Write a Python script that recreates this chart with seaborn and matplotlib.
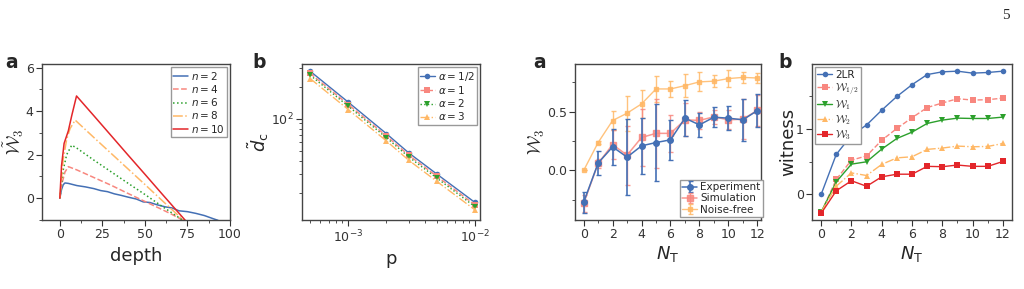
import numpy as np
import pandas as pd
import matplotlib
matplotlib.use("Agg")
import matplotlib.pyplot as plt
import seaborn as sns
from matplotlib.ticker import MultipleLocator, NullFormatter

# ---------------- data ----------------
# panel a (left): W3 tilde vs depth
depth_n2 = [0, 1, 2, 3, 5, 8, 10, 15, 20, 24, 28, 32, 36, 40, 45, 49, 53, 57, 62, 66, 70, 75, 80, 85, 90, 93]
w_n2 = [0, 0.4, 0.62, 0.7, 0.68, 0.62, 0.58, 0.52, 0.44, 0.35, 0.3, 0.2, 0.13, 0.05, -0.04, -0.17, -0.2, -0.3, -0.4, -0.45, -0.58, -0.62, -0.7, -0.8, -0.94, -1.02]
depth_n4 = [0, 1, 3, 5, 10, 20, 30, 40, 50, 60, 66, 72, 74]
w_n4 = [0, 0.6, 1.2, 1.45, 1.3, 0.95, 0.6, 0.22, -0.15, -0.52, -0.75, -1.0, -1.08]
depth_n6 = [0, 2, 4, 7, 10, 20, 30, 40, 50, 60, 72, 74]
w_n6 = [0, 1.3, 2.0, 2.44, 2.3, 1.75, 1.22, 0.69, 0.17, -0.37, -1.0, -1.1]
depth_n8 = [0, 2, 4, 6, 9, 20, 30, 40, 50, 60, 72.5, 74]
w_n8 = [0, 1.8, 2.7, 3.2, 3.59, 2.79, 2.07, 1.35, 0.63, -0.1, -1.0, -1.1]
depth_n10 = [0, 1, 2.5, 5, 7, 9.8, 20, 30, 40, 50, 60, 73.5, 75]
w_n10 = [0, 1.5, 2.52, 3.1, 3.8, 4.7, 3.79, 2.89, 1.99, 1.1, 0.2, -1.0, -1.12]

# panel b (left): d_c vs p
p_vals = [5e-4, 1e-3, 2e-3, 3e-3, 5e-3, 1e-2]
dc_a05 = [279, 142.5, 72, 47.5, 30, 16.2]
dc_a1 = [266, 135.5, 68.5, 45.2, 28.6, 15.4]
dc_a2 = [256, 130.5, 66, 43.5, 27.5, 14.8]
dc_a3 = [238, 121.5, 61.5, 40.5, 25.6, 13.8]

# panel a (right): W3 vs N_T
NT = list(range(13))
exp_val = [-0.27, 0.063, 0.2, 0.113, 0.209, 0.237, 0.26, 0.444, 0.387, 0.452, 0.444, 0.43, 0.508]
exp_err = [0.09, 0.1, 0.15, 0.32, 0.24, 0.33, 0.17, 0.15, 0.1, 0.085, 0.1, 0.18, 0.14]
sim_val = [-0.28, 0.06, 0.22, 0.13, 0.28, 0.315, 0.315, 0.43, 0.425, 0.455, 0.43, 0.435, 0.51]
sim_err = [0.07, 0.04, 0.12, 0.25, 0.24, 0.29, 0.16, 0.14, 0.07, 0.06, 0.08, 0.17, 0.13]
nf_val = [0.0, 0.237, 0.424, 0.486, 0.565, 0.692, 0.692, 0.72, 0.752, 0.758, 0.78, 0.79, 0.785]
nf_err = [0.0, 0.01, 0.08, 0.15, 0.12, 0.11, 0.07, 0.1, 0.08, 0.05, 0.07, 0.05, 0.04]

# panel b (right): witness vs N_T
w_2lr = [0.0, 0.613, 0.905, 1.063, 1.29, 1.5, 1.68, 1.835, 1.877, 1.887, 1.857, 1.867, 1.887]
w_half = [-0.276, 0.23, 0.525, 0.59, 0.83, 1.01, 1.175, 1.33, 1.40, 1.465, 1.445, 1.45, 1.475]
w_one = [-0.27, 0.193, 0.464, 0.5, 0.694, 0.857, 0.954, 1.087, 1.138, 1.168, 1.163, 1.163, 1.184]
w_two = [-0.27, 0.127, 0.33, 0.29, 0.46, 0.56, 0.577, 0.69, 0.71, 0.74, 0.73, 0.735, 0.78]
w_three = [-0.29, 0.056, 0.21, 0.125, 0.27, 0.31, 0.31, 0.43, 0.425, 0.45, 0.43, 0.43, 0.505]

# ---------------- style ----------------
sns.set_style("ticks")
plt.rcParams.update({
    "font.family": ["DejaVu Sans"],
    "axes.edgecolor": "#444444",
    "axes.linewidth": 1.0,
    "xtick.color": "#333333",
    "ytick.color": "#333333",
    "xtick.labelsize": 9,
    "ytick.labelsize": 9,
    "xtick.major.size": 4,
    "ytick.major.size": 4,
    "xtick.minor.size": 2.5,
    "ytick.minor.size": 2.5,
    "xtick.major.width": 0.8,
    "ytick.major.width": 0.8,
    "xtick.minor.width": 0.6,
    "ytick.minor.width": 0.6,
    "mathtext.fontset": "dejavusans",
})

BLUE = "#4470b5"
SALMON = "#f8877f"
GREEN = "#2ca02c"
ORANGE = "#ffb866"
RED = "#e3262a"

fig = plt.figure(figsize=(10.24, 2.89), dpi=100)
bot, hgt = 0.239, 0.538
ax1 = fig.add_axes([0.041, bot, 0.1836, hgt])
ax2 = fig.add_axes([0.2949, bot, 0.1738, hgt])
ax3 = fig.add_axes([0.5615, bot, 0.1816, hgt])
ax4 = fig.add_axes([0.793, bot, 0.1953, hgt])

leg_kw = dict(fontsize=7.5, labelspacing=0.12, handlelength=1.4, handletextpad=0.3,
              borderpad=0.25, borderaxespad=0.25, fancybox=False, framealpha=1,
              edgecolor="#999999")

XL = 13

# ---- panel 1 ----
series1 = [(depth_n2, w_n2, BLUE, "-", r"$n=2$"),
           (depth_n4, w_n4, SALMON, "--", r"$n=4$"),
           (depth_n6, w_n6, GREEN, ":", r"$n=6$"),
           (depth_n8, w_n8, ORANGE, "-.", r"$n=8$"),
           (depth_n10, w_n10, RED, "-", r"$n=10$")]
for xs, ys, c, ls, lab in series1:
    df = pd.DataFrame({"x": xs, "y": ys})
    sns.lineplot(data=df, x="x", y="y", ax=ax1, color=c, linestyle=ls, lw=1.1,
                 label=lab, sort=False)
ax1.set_xlim(-10.5, 100)
ax1.set_ylim(-1, 6.15)
ax1.xaxis.set_major_locator(MultipleLocator(25))
ax1.xaxis.set_minor_locator(MultipleLocator(12.5))
ax1.yaxis.set_major_locator(MultipleLocator(2))
ax1.yaxis.set_minor_locator(MultipleLocator(1))
ax1.set_xlabel("depth", fontsize=XL, labelpad=4)
ax1.set_ylabel(r"$\tilde{\mathcal{W}}_3$", fontsize=13, labelpad=0, math_fontfamily="cm")
ax1.legend(loc="upper right", **leg_kw)

# ---- panel 2 ----
series2 = [(dc_a05, BLUE, "-", "o", r"$\alpha=1/2$"),
           (dc_a1, SALMON, "--", "s", r"$\alpha=1$"),
           (dc_a2, GREEN, ":", "v", r"$\alpha=2$"),
           (dc_a3, ORANGE, "-.", "^", r"$\alpha=3$")]
for ys, c, ls, m, lab in series2:
    df = pd.DataFrame({"p": p_vals, "d": ys})
    sns.lineplot(data=df, x="p", y="d", ax=ax2, color=c, linestyle=ls, lw=1.0,
                 marker=m, markersize=4, markeredgewidth=0, label=lab)
ax2.set_xscale("log")
ax2.set_yscale("log")
ax2.set_xlim(4.31e-4, 1.095e-2)
ax2.set_ylim(11.1, 323)
ax2.yaxis.set_minor_formatter(NullFormatter())
ax2.xaxis.set_minor_formatter(NullFormatter())
ax2.set_xlabel("p", fontsize=XL, labelpad=4)
ax2.set_ylabel(r"$\tilde{d}_{\mathrm{c}}$", fontsize=13, labelpad=0)
ax2.legend(loc="upper right", **leg_kw)

# ---- panel 3 ----
ax3.errorbar(NT, exp_val, yerr=exp_err, color=BLUE, marker="o", markersize=4,
             lw=1.1, capsize=1.8, elinewidth=1.2, capthick=1, label="Experiment", zorder=4)
ax3.errorbar(NT, sim_val, yerr=sim_err, color=SALMON, marker="s", markersize=4,
             lw=1.1, capsize=1.8, elinewidth=1.0, capthick=1, alpha=0.85, label="Simulation", zorder=3)
ax3.errorbar(NT, nf_val, yerr=nf_err, color=ORANGE, marker="s", markersize=2.5,
             lw=1.0, capsize=1.8, elinewidth=1.0, capthick=1, alpha=0.85, label="Noise-free", zorder=2)
ax3.set_xlim(-0.6, 12.25)
ax3.set_ylim(-0.42, 0.9)
ax3.xaxis.set_major_locator(MultipleLocator(2))
ax3.xaxis.set_minor_locator(MultipleLocator(1))
ax3.yaxis.set_major_locator(MultipleLocator(0.5))
ax3.yaxis.set_minor_locator(MultipleLocator(0.25))
ax3.set_xlabel(r"$N_{\mathrm{T}}$", fontsize=XL, labelpad=2)
ax3.set_ylabel(r"$\mathcal{W}_3$", fontsize=13, labelpad=0, math_fontfamily="cm")
ax3.legend(loc="lower right", bbox_to_anchor=(1.025, 0.0), **leg_kw)

# ---- panel 4 ----
series4 = [(w_2lr, BLUE, "-", "o", "2LR"),
           (w_half, SALMON, "--", "s", r"$\mathcal{W}_{1/2}$"),
           (w_one, GREEN, "-", "v", r"$\mathcal{W}_{1}$"),
           (w_two, ORANGE, "-.", "^", r"$\mathcal{W}_{2}$"),
           (w_three, RED, "-", "s", r"$\mathcal{W}_{3}$")]
for ys, c, ls, m, lab in series4:
    df = pd.DataFrame({"N": NT, "w": ys})
    sns.lineplot(data=df, x="N", y="w", ax=ax4, color=c, linestyle=ls, lw=1.0,
                 marker=m, markersize=4, markeredgewidth=0, label=lab)
ax4.set_xlim(-0.6, 12.6)
ax4.set_ylim(-0.39, 1.99)
ax4.xaxis.set_major_locator(MultipleLocator(2))
ax4.xaxis.set_minor_locator(MultipleLocator(1))
ax4.yaxis.set_major_locator(MultipleLocator(1))
ax4.yaxis.set_minor_locator(MultipleLocator(0.5))
ax4.set_xlabel(r"$N_{\mathrm{T}}$", fontsize=XL, labelpad=2)
ax4.set_ylabel("witness", fontsize=13, labelpad=-1)
leg4 = ax4.legend(loc="upper left", **leg_kw)
for t in leg4.get_texts():
    t.set_math_fontfamily("cm")

for ax in (ax1, ax2, ax3, ax4):
    for s in ax.spines.values():
        s.set_visible(True)
        s.set_color("#444444")
    ax.tick_params(which="both", direction="out", top=False, right=False, pad=2)

# panel letters
for x, lab in [(0.005, "a"), (0.246, "b"), (0.5205, "a"), (0.76, "b")]:
    fig.text(x, 0.765, lab, fontsize=13.5, fontweight="bold", ha="left", va="baseline")

# page number
fig.text(0.982, 0.948, "5", fontsize=11, family="Liberation Serif", ha="center", va="center")

fig.savefig("out.png", dpi=100)
